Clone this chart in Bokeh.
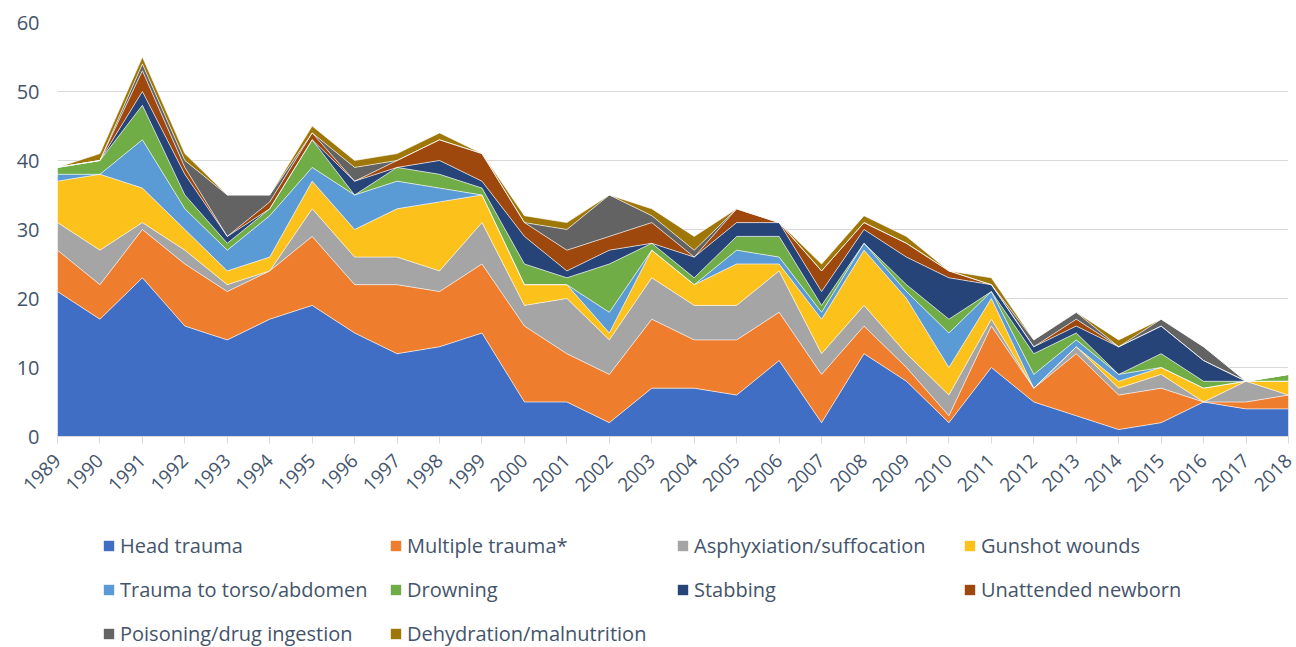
import numpy as np
from math import pi
from bokeh.plotting import figure
from bokeh.layouts import column
from bokeh.models import ColumnDataSource, Legend, LegendItem, FixedTicker, Range1d
from bokeh.embed import file_html
from bokeh.resources import INLINE

years = list(range(1989, 2019))
head_trauma = [21,17,23,16,14,17,19,15,12,13,15,5,5,2,7,7,6,11,2,12,8,2,10,5,3,1,2,5,4,4]
multiple_trauma = [6,5,7,9,7,7,10,7,10,8,10,11,7,7,10,7,8,7,7,4,2,1,6,2,9,5,5,0,1,2]
asphyxiation = [4,5,1,2,1,0,4,4,4,3,6,3,8,5,6,5,5,6,3,3,2,3,1,0,1,1,2,0,3,0]
gunshot = [6,11,5,3,2,2,4,4,7,10,4,3,2,1,4,3,6,1,5,8,8,4,3,0,0,1,1,2,0,2]
torso = [1,0,7,3,3,6,2,5,4,2,0,0,0,3,0,0,2,1,1,1,1,5,1,2,1,1,0,0,0,0]
drowning = [1,2,5,2,1,1,4,0,2,2,1,3,1,7,1,1,2,3,1,0,1,2,0,3,1,0,2,1,0,1]
stabbing = [0,0,2,3,1,0,0,2,0,2,1,4,1,2,0,3,2,2,2,2,4,6,1,1,1,4,4,3,0,0]
newborn = [0,0,3,1,0,1,1,0,1,3,4,2,3,2,3,0,2,0,3,1,2,1,0,0,1,0,0,0,0,0]
poisoning = [0,0,1,1,6,1,0,2,0,0,0,0,3,6,1,1,0,0,0,0,0,0,0,1,1,0,1,2,0,0]
dehydration = [0,1,1,1,0,0,1,1,1,1,0,1,1,0,1,2,0,0,1,1,1,0,1,0,0,1,0,0,0,0]

series_names = ["Head trauma", "Multiple trauma*", "Asphyxiation/suffocation", "Gunshot wounds",
                "Trauma to torso/abdomen", "Drowning", "Stabbing", "Unattended newborn",
                "Poisoning/drug ingestion", "Dehydration/malnutrition"]
series_values = [head_trauma, multiple_trauma, asphyxiation, gunshot, torso, drowning,
                 stabbing, newborn, poisoning, dehydration]
colors = ["#3F6EC4", "#EF7D2E", "#A5A5A5", "#FDC11C", "#5B9BD5", "#70AD47",
          "#264478", "#9E480E", "#636363", "#9E7708"]
y_ticks = [0, 10, 20, 30, 40, 50, 60]

keys = ["s%d" % i for i in range(len(series_values))]
data = {"year": years}
for k, v in zip(keys, series_values):
    data[k] = v
source = ColumnDataSource(data)

TEXT = "#44546A"
FONT = "Open Sans"

p = figure(width=1296, height=510, output_backend="svg", toolbar_location=None,
           x_range=Range1d(1989, 2018), y_range=Range1d(0, 60),
           min_border_left=57, min_border_right=8, min_border_top=22, min_border_bottom=74)
p.outline_line_color = None
p.background_fill_color = "white"
p.border_fill_color = "white"

rends = p.varea_stack(keys, x="year", source=source, color=colors)
p.vline_stack(keys, x="year", source=source, line_color="white", line_width=0.8, line_alpha=0.8)

p.xgrid.grid_line_color = None
p.ygrid.grid_line_color = "#D9D9D9"
p.ygrid.grid_line_width = 1
p.ygrid.ticker = FixedTicker(ticks=y_ticks)

p.yaxis.ticker = FixedTicker(ticks=y_ticks)
p.yaxis.axis_line_color = None
p.yaxis.major_tick_line_color = None
p.yaxis.minor_tick_line_color = None
p.yaxis.major_label_text_font = FONT
p.yaxis.major_label_text_font_size = "20px"
p.yaxis.major_label_text_color = TEXT
p.yaxis.major_label_standoff = 12

p.xaxis.ticker = FixedTicker(ticks=years)
p.xaxis.axis_line_color = "#D9D9D9"
p.xaxis.major_tick_line_color = "#D9D9D9"
p.xaxis.major_tick_in = 0
p.xaxis.major_tick_out = 7
p.xaxis.minor_tick_line_color = None
p.xaxis.major_label_orientation = pi / 4
p.xaxis.major_label_text_font = FONT
p.xaxis.major_label_text_font_size = "19px"
p.xaxis.major_label_text_color = TEXT
p.xaxis.major_label_standoff = 14

# Legend in its own strip below the chart
lg = figure(width=1296, height=137, output_backend="svg", toolbar_location=None,
            x_range=Range1d(0, 10), y_range=Range1d(0, 10),
            x_axis_type=None, y_axis_type=None,
            min_border_left=57, min_border_right=8, min_border_top=0, min_border_bottom=0)
lg.outline_line_color = None
lg.xgrid.grid_line_color = None
lg.ygrid.grid_line_color = None
dummy = [lg.varea(x=[-5, -4], y1=[-5, -5], y2=[-4, -4], color=c) for c in colors]

items = [LegendItem(label=n, renderers=[r]) for n, r in zip(series_names, dummy)]
legend = Legend(items=items, ncols=4, orientation="horizontal", location=(45, 0),
                glyph_width=13, glyph_height=13, label_standoff=5,
                label_width=252, label_height=24, spacing=17,
                padding=0, margin=0, border_line_color=None, background_fill_alpha=0,
                label_text_font=FONT, label_text_font_size="20px", label_text_color=TEXT)
lg.add_layout(legend, "center")

layout = column(p, lg, spacing=0)
open("out.html", "w").write(file_html(layout, INLINE))
